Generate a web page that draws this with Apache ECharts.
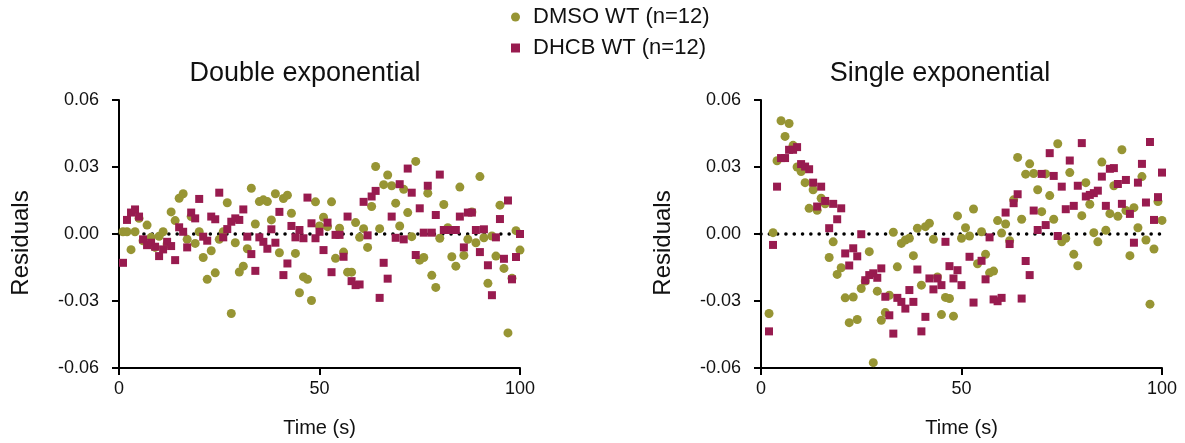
<!DOCTYPE html>
<html>
<head>
<meta charset="utf-8">
<script src="https://cdn.jsdelivr.net/npm/echarts@6/dist/echarts.min.js"></script>
<style>
  html, body { margin: 0; padding: 0; background: #fff; }
  #chart { width: 1185px; height: 443px; }
</style>
</head>
<body>
<div id="chart"></div>
<script>
  // sampling times, 1 s apart
  var timeS = Array.from({ length: 100 }, function (_, i) { return i + 1; });

  var dmsoName = 'DMSO WT (n=12)';
  var dhcbName = 'DHCB WT (n=12)';
  var panelTitles = ['Double exponential', 'Single exponential'];
  var xTicks = [0, 50, 100];
  var yTicks = [-0.06, -0.03, 0, 0.03, 0.06];

  // residuals, double exponential fit
  var dmsoDouble = [
    0.001, 0.001, -0.007, 0.001, 0.007, -0.003, 0.004, -0.0015, -0.006, -0.001,
    0.001, -0.0045, 0.0099, 0.006, 0.016, 0.018, -0.0024, 0.0078, -0.0042, 0.001,
    -0.0105, -0.0203, -0.0075, -0.0174, -0.0024, 0.001, 0.014, -0.0356, -0.0039, -0.017,
    -0.0144, -0.0066, 0.0205, 0.0045, 0.0145, 0.0153, 0.0145, 0.0063, 0.018, -0.0084,
    0.0159, 0.0174, 0.0093, -0.0087, -0.0263, -0.0192, -0.0203, -0.0298, 0.0144, 0.0036,
    0.0075, 0.0033, 0.0144, -0.0109, 0.0026, -0.0081, -0.0171, -0.0171, 0.0051, -0.0015,
    0.0024, -0.006, 0.0123, 0.0302, 0.0024, 0.0221, 0.0264, 0.0216, 0.0138, 0.0036,
    0.02, 0.0096, -0.0012, 0.0325, -0.0117, -0.0105, 0.0183, -0.0185, -0.0239, -0.0019,
    0.0132, 0.0028, -0.0102, -0.0144, 0.021, -0.0096, -0.0024, 0.0099, -0.0039, 0.0257,
    -0.0017, -0.0221, -0.0009, -0.0099, 0.0129, -0.0154, -0.0443, -0.0198, 0.0015, -0.0072
  ];
  var dhcbDouble = [
    -0.0129, 0.0063, 0.0096, 0.011, 0.0078, -0.0024, -0.005, -0.0039, -0.0057, -0.0099,
    -0.0069, -0.0035, -0.0054, -0.0117, 0.003, 0.001, -0.006, 0.0096, 0.007, 0.0157,
    -0.0012, -0.003, 0.0078, 0.0066, 0.0185, -0.0015, 0.0022, 0.0055, 0.007, 0.0063,
    0.011, -0.0012, -0.009, -0.0165, -0.0015, -0.0035, -0.0066, 0.0021, -0.0039, 0.0099,
    -0.0184, -0.0132, 0.0036, -0.0015, 0.0018, -0.0019, 0.0163, 0.0048, -0.0019, 0.001,
    -0.0072, 0.0051, -0.0171, -0.0004, -0.0004, -0.0102, 0.0078, -0.0211, -0.0229, -0.0226,
    0.0144, -0.0006, 0.0168, 0.0193, -0.0286, -0.0129, -0.02, 0.0078, -0.0017, 0.0223,
    -0.0024, 0.0293, 0.0185, -0.0094, 0.0115, 0.0006, 0.0216, 0.0006, 0.0085, 0.0266,
    0.0018, 0.0018, 0.0018, 0.0018, 0.0078, -0.006, 0.0096, 0.0096, 0.0018, -0.0081,
    0.0021, -0.014, -0.0274, -0.0015, 0.0067, -0.0111, 0.015, -0.0203, -0.0103, 0
  ];

  // residuals, single exponential fit (null = not visible)
  var dmsoSingle = [
    null, -0.0356, 0.0006, 0.0328, 0.0507, 0.0437, 0.0495, 0.0397, 0.03, 0.028,
    0.023, 0.0115, 0.0198, 0.0106, 0.016, 0.0135, -0.0105, -0.0035, -0.0181, -0.0151,
    -0.0286, -0.0397, -0.0282, -0.0383, -0.0244, -0.0211, -0.0079, -0.0576, -0.0256, -0.0386,
    -0.0352, -0.0274, 0.0008, -0.0147, -0.0042, -0.0027, -0.0019, -0.0097, 0.0026, -0.0229,
    0.0033, 0.0048, -0.0024, -0.0192, -0.0361, -0.0284, -0.0289, -0.0368, 0.0081, -0.0019,
    0.0028, -0.0009, 0.0112, -0.0133, 0.001, -0.0091, -0.0174, -0.0166, 0.006, 0.0004,
    0.0045, -0.003, 0.0153, 0.0343, 0.0066, 0.0268, 0.0314, 0.0271, 0.0198, 0.01,
    0.0269, 0.0172, 0.0066, 0.0404, -0.0035, -0.0019, 0.0275, -0.0091, -0.0142, 0.0082,
    0.023, 0.0133, 0.0006, -0.0035, 0.0322, 0.0017, 0.0091, 0.0216, 0.0079, 0.0377,
    0.0105, -0.0097, 0.0118, 0.0028, 0.0257, -0.0027, -0.0314, -0.0067, 0.0145, 0.0061
  ];
  var dhcbSingle = [
    null, -0.0436, -0.0049, 0.0212, 0.034, 0.034, 0.0377, 0.0377, 0.0389, 0.0313,
    0.0302, 0.029, 0.023, 0.0123, 0.0212, 0.0148, 0.0026, 0.0135, 0.0066, 0.0115,
    -0.0087, -0.0141, -0.0064, -0.01, -0.0001, -0.0207, -0.0184, -0.0176, -0.0196, -0.0154,
    -0.0281, -0.0364, -0.0446, -0.0286, -0.0304, -0.0334, -0.0251, -0.0304, -0.0159, -0.0436,
    -0.0371, -0.0199, -0.0248, -0.0199, -0.0229, -0.0035, -0.0144, -0.0199, -0.0162, -0.0229,
    null, -0.0102, -0.0307, null, -0.012, -0.0203, -0.0015, -0.0293, -0.0301, -0.0286,
    0.0096, -0.0045, 0.0138, 0.0178, -0.0289, -0.0121, -0.0184, 0.0105, 0.0018, 0.0269,
    0.004, 0.0362, 0.026, -0.0009, 0.0212, 0.0111, 0.0329, 0.0126, 0.0216, 0.0407,
    0.0168, 0.0175, 0.0183, 0.0194, 0.0257, 0.0126, 0.0292, 0.0295, 0.0224, 0.0135,
    0.0242, 0.009, -0.0039, 0.023, 0.0314, 0.0141, 0.0412, 0.0063, 0.0165, 0.0275
  ];

  var green = '#979534';
  var maroon = '#981b4f';
  var font = '"Liberation Sans", Arial, sans-serif';

  function pairs(vals) {
    var out = [];
    vals.forEach(function (v, i) {
      if (v !== null) out.push([timeS[i], v]);
    });
    return out;
  }

  var gridLefts = [119, 761];
  var titleCenters = [300, 935];

  var chart = echarts.init(document.getElementById('chart'));

  var grids = [], xAxes = [], yAxes = [], titles = [], series = [];
  var panels = [[dmsoDouble, dhcbDouble], [dmsoSingle, dhcbSingle]];

  panels.forEach(function (p, k) {
    grids.push({ left: gridLefts[k], top: 100, width: 401, height: 268 });
    titles.push({
      text: panelTitles[k],
      left: titleCenters[k],
      top: 55,
      textAlign: 'center',
      textStyle: { fontFamily: font, fontSize: 27, fontWeight: 'normal', color: '#111' }
    });
    xAxes.push({
      gridIndex: k,
      type: 'value',
      min: xTicks[0],
      max: xTicks[xTicks.length - 1],
      interval: 50,
      name: 'Time (s)',
      nameLocation: 'middle',
      nameGap: 50,
      nameTextStyle: { fontFamily: font, fontSize: 20, color: '#111' },
      axisLine: { onZero: false, lineStyle: { color: '#000', width: 2 } },
      axisTick: { length: 7, lineStyle: { color: '#000', width: 2 } },
      axisLabel: { fontFamily: font, fontSize: 18, color: '#111', margin: 12 },
      splitLine: { show: false }
    });
    yAxes.push({
      gridIndex: k,
      type: 'value',
      min: yTicks[0],
      max: yTicks[yTicks.length - 1],
      interval: 0.03,
      name: 'Residuals',
      nameLocation: 'middle',
      nameGap: 86,
      nameTextStyle: { fontFamily: font, fontSize: 24, color: '#111', padding: [0, 18, 0, 0] },
      axisLine: { show: true, onZero: false, lineStyle: { color: '#000', width: 2 } },
      axisTick: { show: true, length: 7, lineStyle: { color: '#000', width: 2 } },
      axisLabel: {
        fontFamily: font, fontSize: 18, color: '#111', margin: 20,
        formatter: function (v) { return v.toFixed(2); }
      },
      splitLine: { show: false }
    });
    // dotted zero line
    series.push({
      type: 'line',
      xAxisIndex: k,
      yAxisIndex: k,
      data: [[xTicks[0], 0], [xTicks[xTicks.length - 1], 0]],
      symbol: 'none',
      silent: true,
      z: 1,
      lineStyle: { color: '#000', width: 3.5, type: [0.1, 8.2], cap: 'round' }
    });
    series.push({
      name: dmsoName,
      type: 'scatter',
      xAxisIndex: k,
      yAxisIndex: k,
      data: pairs(p[0]),
      symbol: 'circle',
      symbolSize: 9,
      clip: false,
      z: 2,
      itemStyle: { color: green, opacity: 1 }
    });
    series.push({
      name: dhcbName,
      type: 'scatter',
      xAxisIndex: k,
      yAxisIndex: k,
      data: pairs(p[1]),
      symbol: 'rect',
      symbolSize: 8,
      clip: false,
      z: 3,
      itemStyle: { color: maroon, opacity: 1 }
    });
  });

  chart.setOption({
    backgroundColor: '#fff',
    animation: false,
    title: titles,
    legend: {
      orient: 'vertical',
      left: 511,
      top: 6,
      padding: 0,
      itemWidth: 9,
      itemHeight: 9,
      itemGap: 9,
      data: [
        { name: dmsoName, icon: 'circle' },
        { name: dhcbName, icon: 'rect' }
      ],
      itemStyle: { opacity: 1 },
      textStyle: { fontFamily: font, fontSize: 22, color: '#111', padding: [0, 0, 0, 8] }
    },
    grid: grids,
    xAxis: xAxes,
    yAxis: yAxes,
    series: series
  });

  window.addEventListener('resize', function () {
    chart.resize();
  });
</script>
</body>
</html>
